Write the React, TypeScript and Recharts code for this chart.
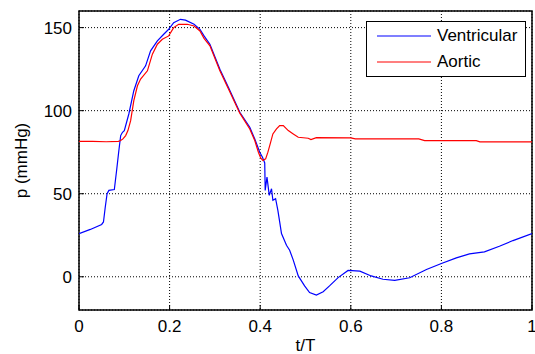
import {
  LineChart,
  Line,
  XAxis,
  YAxis,
  CartesianGrid,
  ReferenceArea,
  Legend,
} from "recharts";

const FONT = '"Liberation Sans", Arial, Helvetica, sans-serif';

const ventT = [
  0, 0.025, 0.05, 0.054, 0.058, 0.062, 0.066, 0.078, 0.083, 0.088, 0.092, 0.096, 0.1, 0.11, 0.121,
  0.132, 0.147, 0.158, 0.173, 0.187, 0.198, 0.209, 0.224, 0.235, 0.254, 0.267, 0.276, 0.289, 0.311,
  0.33, 0.355, 0.377, 0.388, 0.399, 0.405, 0.41, 0.411, 0.415, 0.42, 0.425, 0.428, 0.434, 0.439,
  0.443, 0.447, 0.458, 0.465, 0.473, 0.484, 0.498, 0.509, 0.524, 0.539, 0.553, 0.572, 0.594, 0.62,
  0.645, 0.671, 0.697, 0.73, 0.767, 0.8, 0.833, 0.862, 0.895, 0.928, 0.958, 1.0,
];
const ventP = [
  26, 28.5, 31.5, 33, 42, 50, 52, 52.5, 64, 76, 85, 87, 88, 98, 112,
  121, 127, 136, 142, 146, 149, 153, 155, 154.5, 152, 149, 145, 140, 125,
  114, 99, 90, 83, 75, 72, 68.5, 52, 60, 49, 53, 46, 47, 40,
  33, 26, 19, 16, 10, 0.5, -5.5, -9.5, -11, -9, -5.5, -0.5, 3.8, 3.4,
  0.5, -1.5, -2.2, -0.6, 4.4, 8, 11.4, 13.8, 15, 18.4, 21.8, 26,
];

const aortT = [
  0, 0.03, 0.06, 0.087, 0.092, 0.097, 0.103, 0.108, 0.114, 0.121, 0.129, 0.136, 0.151, 0.162,
  0.173, 0.184, 0.198, 0.209, 0.22, 0.239, 0.254, 0.267, 0.276, 0.289, 0.311, 0.33, 0.355, 0.377,
  0.388, 0.396, 0.401, 0.406, 0.412, 0.417, 0.421, 0.428, 0.436, 0.443, 0.451, 0.462, 0.473, 0.484,
  0.506, 0.512, 0.524, 0.6, 0.61, 0.75, 0.763, 0.877, 0.885, 1.0,
];
const aortP = [
  81.5, 81.5, 81.3, 81.5, 82, 83, 85, 88, 94, 106, 115, 119, 124, 134,
  140, 143, 145, 150, 152, 152, 151, 148, 143.5, 139, 124, 113, 98.5, 89,
  82, 75, 71.5, 70, 71, 75, 79, 86, 89, 91, 91, 88, 86, 84,
  83.4, 82.6, 83.8, 83.6, 83, 83, 82, 82, 81.2, 81.2,
];

const xTicks = [0, 0.2, 0.4, 0.6, 0.8, 1];
const yTicks = [0, 50, 100, 150];
const seriesNames = ["Ventricular", "Aortic"];
const seriesColors = ["#0000ff", "#ff0000"];

const ventData = ventT.map((t, i) => ({ t, p: ventP[i] }));
const aortData = aortT.map((t, i) => ({ t, p: aortP[i] }));

const TICK_LEN = 5;
const X_GAP = 10;
const Y_GAP = 7;

function BottomTick(props: any) {
  const { x, y, payload } = props;
  return (
    <g>
      <line x1={x} x2={x} y1={y - X_GAP} y2={y - X_GAP - TICK_LEN} stroke="#000" />
      <text x={x} y={y} dy="0.71em" textAnchor="middle" fontSize={17} fontFamily={FONT} fill="#000">
        {String(payload.value)}
      </text>
    </g>
  );
}

function LeftTick(props: any) {
  const { x, y, payload } = props;
  return (
    <g>
      <line x1={x + Y_GAP} x2={x + Y_GAP + TICK_LEN} y1={y} y2={y} stroke="#000" />
      <text x={x} y={y} dy="0.355em" textAnchor="end" fontSize={17} fontFamily={FONT} fill="#000">
        {String(payload.value)}
      </text>
    </g>
  );
}

function TopTick(props: any) {
  const { x, y } = props;
  return <line x1={x} x2={x} y1={y} y2={y + TICK_LEN} stroke="#000" />;
}

function RightTick(props: any) {
  const { x, y } = props;
  return <line x1={x} x2={x - TICK_LEN} y1={y} y2={y} stroke="#000" />;
}

function LegendBox() {
  return (
    <div
      style={{
        width: 158,
        height: 54,
        border: "1.5px solid #000",
        background: "#fff",
        fontFamily: FONT,
        fontSize: 17,
        color: "#000",
        boxSizing: "content-box",
      }}
    >
      {seriesNames.map((name, i) => (
        <div key={name} style={{ display: "flex", alignItems: "center", height: 26, marginTop: i === 0 ? 1 : 0 }}>
          <svg width={70} height={26}>
            <line x1={10} x2={64} y1={13} y2={13} stroke={seriesColors[i]} strokeWidth={1.2} />
          </svg>
          <span>{name}</span>
        </div>
      ))}
    </div>
  );
}

export default function App() {
  return (
    <div style={{ position: "absolute", left: 0, top: 0, width: 535, height: 354, background: "#fff" }}>
      <LineChart width={535} height={354} margin={{ top: 11, right: 3, bottom: 0, left: 0 }}>
        <CartesianGrid stroke="#000" strokeDasharray="1 2" />
        <XAxis
          dataKey="t"
          type="number"
          domain={[0, 1]}
          ticks={xTicks}
          interval={0}
          height={44}
          axisLine={false}
          tickLine={false}
          tickSize={0}
          tickMargin={X_GAP}
          tick={<BottomTick />}
          allowDataOverflow
          label={{ value: "t/T", position: "insideBottom", offset: 3, fill: "#000", fontSize: 17, fontFamily: FONT }}
        />
        <XAxis
          xAxisId="top"
          orientation="top"
          type="number"
          domain={[0, 1]}
          ticks={xTicks}
          interval={0}
          height={0}
          axisLine={false}
          tickLine={false}
          tickSize={0}
          tickMargin={0}
          tick={<TopTick />}
        />
        <YAxis
          type="number"
          domain={[-20, 160]}
          ticks={yTicks}
          interval={0}
          width={79}
          axisLine={false}
          tickLine={false}
          tickSize={0}
          tickMargin={Y_GAP}
          tick={<LeftTick />}
          allowDataOverflow
          label={{
            value: "p (mmHg)",
            angle: -90,
            position: "insideLeft",
            offset: 21,
            fill: "#000",
            fontSize: 17,
            fontFamily: FONT,
            style: { textAnchor: "middle" },
          }}
        />
        <YAxis
          yAxisId="right"
          orientation="right"
          type="number"
          domain={[-20, 160]}
          ticks={yTicks}
          interval={0}
          width={0}
          axisLine={false}
          tickLine={false}
          tickSize={0}
          tickMargin={0}
          tick={<RightTick />}
        />
        <Line
          data={ventData}
          dataKey="p"
          name={seriesNames[0]}
          stroke={seriesColors[0]}
          strokeWidth={1.2}
          dot={false}
          type="linear"
          isAnimationActive={false}
        />
        <Line
          data={aortData}
          dataKey="p"
          name={seriesNames[1]}
          stroke={seriesColors[1]}
          strokeWidth={1.2}
          dot={false}
          type="linear"
          isAnimationActive={false}
        />
        <ReferenceArea x1={0} x2={1} y1={-20} y2={160} fill="none" stroke="#000" strokeWidth={1.5} />
        <Legend
          layout="vertical"
          align="center"
          verticalAlign="middle"
          content={<LegendBox />}
          wrapperStyle={{ top: 21, left: 366, width: 161, height: 57 }}
        />
      </LineChart>
    </div>
  );
}
